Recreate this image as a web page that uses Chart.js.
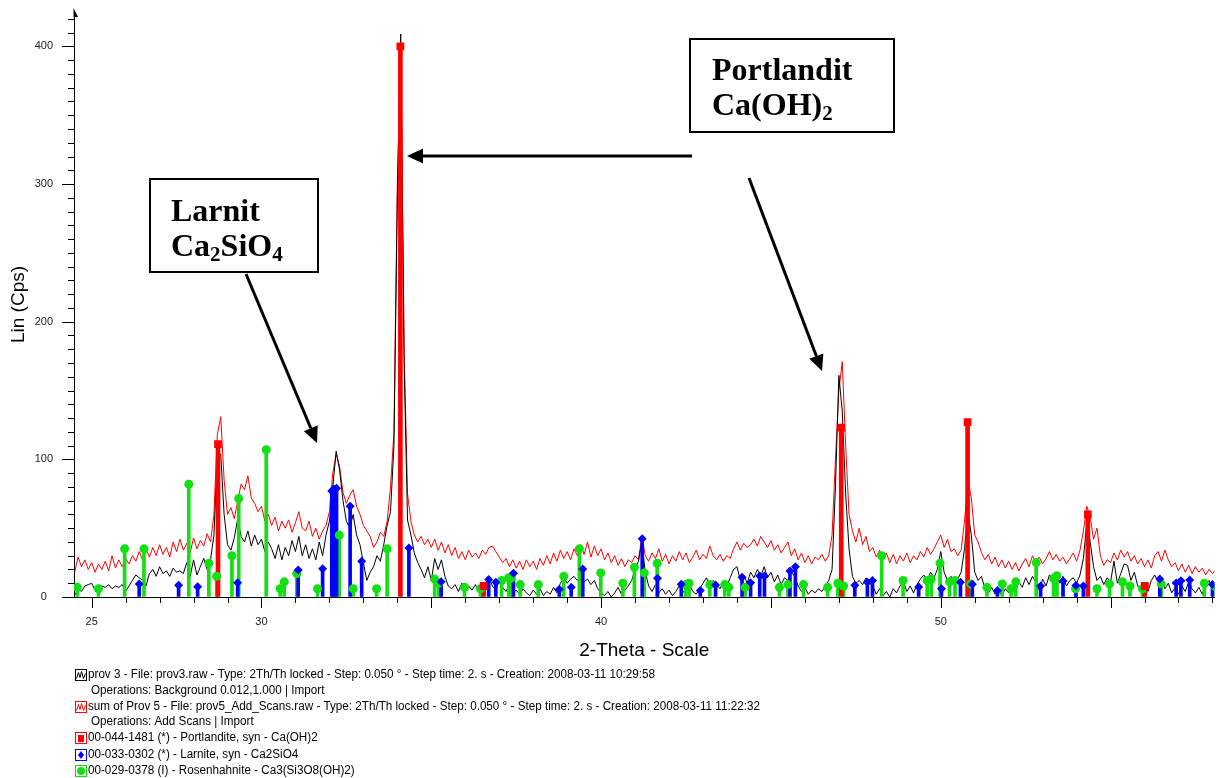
<!DOCTYPE html>
<html>
<head>
<meta charset="utf-8">
<script src="https://cdn.jsdelivr.net/npm/chart.js@4.4.1/dist/chart.umd.min.js"></script>
<style>
  html, body { margin: 0; padding: 0; background: #fff; }
  #wrap { width: 1220px; height: 778px; }
</style>
</head>
<body>
<div id="wrap"><canvas id="xrd" width="1220" height="778"></canvas></div>
<script>
// scans: 2-theta from START in steps of STEP (deg)
const START = 24.5, STEP = 0.1;

// prov 3 (black)
const prov3 = [
  1, 6, 4, 8, 9,
  10, 5, 3, 8, 7, 9, 6, 8, 7, 9,
  4, 8, 12, 16, 14, 12, 8, 17, 20, 15,
  22, 17, 19, 15, 21, 18, 19, 17, 25, 15,
  27, 16, 22, 28, 20, 27, 45, 100, 104, 60,
  38, 34, 43, 57, 44, 40, 48, 37, 45, 38,
  42, 33, 40, 35, 28, 38, 27, 36, 30, 41,
  33, 44, 30, 38, 28, 35, 27, 40, 30, 45,
  55, 80, 106, 92, 70, 55, 50, 60, 45, 38,
  25, 12, 18, 22, 30, 26, 38, 52, 62, 110,
  290, 409, 170, 56, 45, 32, 25, 20, 14, 22,
  12, 28, 20, 27, 15, 8, 6, 9, 4, 10,
  4, 8, 5, 9, 3, 6, 10, 14, 8, 5,
  12, 7, 4, 9, 3, 5, 2, 6, 3, 1,
  5, 2, 6, 1, 4, 2, 7, 3, 10, 14,
  10, 13, 15, 12, 16, 11, 13, 9, 12, 6,
  3, 1, 4, 0, 3, 7, 2, 5, 8, 12,
  20, 26, 40, 18, 8, 4, 9, 3, 6, 2,
  5, 1, 4, 8, 3, 6, 9, 4, 2, 6,
  10, 14, 8, 12, 9, 6, 11, 8, 14, 20,
  22, 12, 16, 10, 18, 14, 20, 15, 22, 14,
  18, 11, 16, 9, 14, 12, 18, 15, 8, 4,
  7, 2, 5, 3, 6, 4, 8, 12, 20, 80,
  161, 135, 75, 35, 15, 10, 12, 9, 14, 10,
  8, 2, 6, 1, 4, 0, 6, 3, 8, 11,
  4, 8, 3, 9, 13, 16, 12, 18, 14, 20,
  33, 18, 12, 15, 9, 13, 18, 35, 62, 45,
  18, 12, 15, 6, 3, 7, 2, 5, 1, 6,
  3, 8, 4, 11, 7, 14, 9, 15, 11, 5,
  13, 8, 16, 12, 18, 10, 15, 8, 12, 14,
  10, 16, 28, 54, 40, 22, 12, 15, 9, 14,
  11, 26, 10, 17, 24, 23, 12, 18, 8, 5,
  9, 4, 12, 16, 11, 14, 6, 10, 3, 7,
  2, 8, 4, 11, 6, 3, 7, 2, 9, 12,
  6, 10
];

// sum of Prov 5 (red)
const prov5 = [
  18, 29, 22, 27, 20,
  25, 18, 24, 20, 26, 19, 30, 21, 27, 22,
  28, 24, 30, 26, 33, 27, 35, 29, 36, 30,
  38, 31, 36, 29, 40, 33, 42, 34, 39, 32,
  43, 35, 41, 37, 46, 40, 60, 118, 131, 85,
  60, 65, 57, 70, 82, 78, 88, 72, 68, 62,
  66, 55, 60, 52, 58, 48, 55, 50, 56, 47,
  54, 62, 50, 48, 55, 44, 50, 42, 48, 52,
  62, 90, 104, 95, 76, 68, 74, 78, 66, 60,
  52, 48, 44, 36, 40, 47, 44, 55, 80, 120,
  300, 402, 180, 75, 55, 45, 40, 44, 38, 42,
  36, 42, 34, 40, 32, 38, 30, 36, 28, 33,
  27, 34, 29, 32, 28, 34, 31, 36, 37, 33,
  29, 25, 28, 22, 27, 21, 26, 20, 27, 22,
  26, 20, 28, 23, 30, 24, 32, 26, 34, 28,
  33, 27, 35, 30, 38, 31, 40, 29, 37, 30,
  35, 27, 32, 25, 30, 23, 28, 22, 27, 25,
  30, 27, 44, 30, 26, 32, 28, 35, 26, 31,
  24, 30, 26, 33, 27, 32, 25, 29, 34, 27,
  31, 28, 37, 30, 27, 31, 26, 30, 28, 35,
  40, 34, 39, 36, 38, 42, 37, 44, 40, 36,
  41, 34, 38, 32, 36, 40, 30, 35, 27, 32,
  25, 30, 24, 29, 27, 31, 26, 30, 45, 100,
  150, 171, 110, 60, 48, 40, 50, 38, 44, 33,
  36, 29, 34, 27, 32, 25, 31, 24, 30, 26,
  32, 25, 30, 27, 33, 29, 36, 31, 35, 40,
  45, 36, 42, 33, 35, 30, 34, 55, 85, 72,
  45, 40, 32, 27, 31, 24, 29, 22, 27, 21,
  26, 20, 25, 19, 24, 28, 22, 30, 25, 29,
  24, 28, 33, 27, 31, 26, 29, 24, 28, 32,
  26, 34, 48, 66, 58, 42, 50, 30, 23, 27,
  25, 32, 27, 34, 29, 33, 26, 30, 24, 28,
  22, 27, 21, 30, 33, 26, 34, 27, 22, 25,
  19, 24, 18, 23, 17, 22, 18, 21, 16, 20,
  17, 20
];

// reference patterns (stick positions / heights)
const portlandite2T = [28.72, 34.09, 36.54, 47.07, 50.79, 54.33, 56.01];
const portlanditeI  = [111, 400, 8, 123, 127, 60, 8];

const larnite2T = [26.40, 27.56, 28.12, 29.30, 31.08, 31.80, 32.07, 32.13, 32.21, 32.61, 32.95, 34.34,
  35.29, 36.69, 36.90, 37.42, 38.77, 39.12, 39.46, 41.21, 41.66, 42.36, 42.92, 43.37, 44.15, 44.40,
  44.67, 44.81, 45.56, 45.72, 47.47, 47.84, 47.99, 49.35, 50.02, 50.58, 50.93, 51.67, 52.94, 53.60,
  53.98, 54.20, 56.45, 56.93, 57.07, 57.33, 58.00];
const larniteI = [9.5, 8.5, 7.5, 10.4, 19.6, 20.6, 77, 78.5, 79, 66, 26, 35.6,
  11, 12.8, 10.7, 17.2, 5.6, 7, 20.4, 42.4, 13.6, 9.2, 4.8, 8.7, 14.3, 10.4,
  15.3, 15.3, 18.9, 22, 8.5, 10.7, 11.9, 7.3, 6, 10.7, 9.2, 4.8, 8, 11.6,
  8.3, 8, 13, 10.2, 11.8, 12.4, 9];

const rosen2T = [24.58, 25.20, 25.97, 26.54, 27.86, 28.45, 28.68, 29.13, 29.33, 30.14, 30.55, 30.67,
  31.04, 31.65, 32.29, 32.70, 33.39, 33.70, 35.10, 35.22, 35.98, 36.45, 37.07, 37.28, 37.35, 37.62,
  38.15, 38.90, 39.36, 39.99, 40.64, 40.98, 41.27, 41.65, 42.49, 42.59, 43.20, 43.64, 43.76, 44.24,
  45.25, 45.50, 45.96, 46.67, 46.97, 47.14, 48.26, 48.89, 49.60, 49.72, 49.98, 50.26, 50.42, 50.88,
  51.36, 51.81, 52.07, 52.21, 52.81, 53.32, 53.42, 53.97, 54.60, 54.97, 55.35, 55.57, 55.94, 56.49,
  57.76, 58.08];
const rosenI = [7, 6, 35, 35, 82, 24.5, 15, 30, 71.5, 107, 6, 11,
  17, 6, 45, 6, 6, 35, 13, 10, 7, 6, 12, 14, 13.5, 9,
  9, 15, 35, 17.5, 10, 21.6, 17.5, 24.5, 9, 10, 9, 9, 7, 7,
  7, 9, 9, 7, 10, 8, 30, 12, 12, 13, 24.5, 11, 12, 9.5,
  7, 9.5, 6, 11, 25, 13.5, 15.5, 6, 6, 9.5, 11, 8, 6, 9.5,
  10, 7.5];

const xTickLabels = [25, 30, 40, 50];
const yTickLabels = [0, 100, 200, 300, 400];

const RED = '#ff0000', BLUE = '#0000ff', GREEN = '#12e012';

const scan = ys => ys.map((y, i) => ({ x: +(START + i * STEP).toFixed(2), y: y }));
const sticks = (xs, ys) => xs.map((x, i) => ({ x: x, y: ys[i] }));

const legendRows = [
  { icon: 'line', color: '#000', x: 88, y: 675, text: 'prov 3 - File: prov3.raw - Type: 2Th/Th locked - Step: 0.050 \u00b0 - Step time: 2. s - Creation: 2008-03-11 10:29:58' },
  { icon: null, x: 91, y: 691, text: 'Operations: Background 0.012,1.000 | Import' },
  { icon: 'line', color: RED, x: 88, y: 707, text: 'sum of Prov 5 - File: prov5_Add_Scans.raw - Type: 2Th/Th locked - Step: 0.050 \u00b0 - Step time: 2. s - Creation: 2008-03-11 11:22:32' },
  { icon: null, x: 91, y: 722, text: 'Operations: Add Scans | Import' },
  { icon: 'rect', color: RED, x: 88, y: 738, text: '00-044-1481 (*) - Portlandite, syn - Ca(OH)2' },
  { icon: 'rectRot', color: BLUE, x: 88, y: 755, text: '00-033-0302 (*) - Larnite, syn - Ca2SiO4' },
  { icon: 'circle', color: GREEN, x: 88, y: 771, text: '00-029-0378 (I) - Rosenhahnite - Ca3(Si3O8(OH)2)' }
];

function arrow(ctx, x1, y1, x2, y2) {
  const a = Math.atan2(y2 - y1, x2 - x1), L = 16, W = 7.5;
  const bx = x2 - L * Math.cos(a), by = y2 - L * Math.sin(a);
  ctx.beginPath();
  ctx.moveTo(x1, y1);
  ctx.lineTo(bx, by);
  ctx.lineWidth = 3;
  ctx.stroke();
  ctx.beginPath();
  ctx.moveTo(x2, y2);
  ctx.lineTo(bx + W * Math.sin(a), by - W * Math.cos(a));
  ctx.lineTo(bx - W * Math.sin(a), by + W * Math.cos(a));
  ctx.closePath();
  ctx.fill();
}

function chem(ctx, x, y, parts) {
  // parts: [text, isSubscript]
  let cx = x;
  parts.forEach(([t, sub]) => {
    ctx.font = sub ? 'bold 21px "Liberation Serif", "Times New Roman", serif' : 'bold 32px "Liberation Serif", "Times New Roman", serif';
    ctx.fillText(t, cx, sub ? y + 5 : y);
    cx += ctx.measureText(t).width;
  });
}

const decorations = {
  id: 'decorations',
  afterDraw(chart) {
    const ctx = chart.ctx;
    const xs = chart.scales.x, ys = chart.scales.y;
    const ax = xs.left, ay = ys.bottom;
    ctx.save();
    ctx.strokeStyle = '#000';
    ctx.fillStyle = '#000';
    ctx.lineWidth = 1;

    // axis tick marks
    ctx.beginPath();
    for (let v = 0; v <= 420; v += 10) {
      const py = Math.round(ys.getPixelForValue(v)) + 0.5;
      const len = yTickLabels.includes(v) ? 12 : 6;
      ctx.moveTo(ax, py); ctx.lineTo(ax - len, py);
    }
    for (let v = 25; v <= 58; v++) {
      const px = Math.round(xs.getPixelForValue(v)) + 0.5;
      const len = v % 5 === 0 ? 11 : 6;
      ctx.moveTo(px, ay); ctx.lineTo(px, ay + len);
    }
    ctx.stroke();

    // small arrow tip at top of y axis
    ctx.beginPath();
    ctx.moveTo(ax - 0.5, ys.top - 4);
    ctx.lineTo(ax - 0.5, ys.top + 5);
    ctx.lineTo(ax + 4, ys.top + 5);
    ctx.closePath();
    ctx.fill();

    // annotation boxes
    ctx.lineWidth = 2;
    ctx.strokeRect(150, 179, 168, 93);
    ctx.strokeRect(690, 39, 204, 93);
    ctx.textBaseline = 'alphabetic';
    ctx.textAlign = 'left';
    chem(ctx, 171, 221, [['Larnit', false]]);
    chem(ctx, 171, 256, [['Ca', false], ['2', true], ['SiO', false], ['4', true]]);
    chem(ctx, 712, 80, [['Portlandit', false]]);
    chem(ctx, 712, 115, [['Ca(OH)', false], ['2', true]]);

    arrow(ctx, 246, 274, 317, 443);
    arrow(ctx, 692, 156, 407, 156);
    arrow(ctx, 749, 178, 822, 371);

    // legend
    ctx.font = '12px "Liberation Sans Narrow", "Liberation Sans", Arial, sans-serif';
    ctx.textBaseline = 'middle';
    const sx = 567 / ctx.measureText(legendRows[0].text).width;
    legendRows.forEach(r => {
      if (r.icon) {
        const bx = 75.5, by = r.y - 5.5;
        ctx.lineWidth = 1;
        ctx.strokeStyle = r.color;
        ctx.fillStyle = r.color;
        ctx.strokeRect(bx, by, 11, 11);
        if (r.icon === 'line') {
          ctx.beginPath();
          ctx.moveTo(bx + 1, by + 9);
          ctx.lineTo(bx + 3, by + 3);
          ctx.lineTo(bx + 4.5, by + 8);
          ctx.lineTo(bx + 6, by + 2);
          ctx.lineTo(bx + 8, by + 9);
          ctx.lineTo(bx + 10, by + 4);
          ctx.stroke();
        } else if (r.icon === 'rect') {
          ctx.fillRect(bx + 2.5, by + 2.5, 6, 7);
        } else if (r.icon === 'rectRot') {
          ctx.beginPath();
          ctx.moveTo(bx + 5.5, by + 1.5);
          ctx.lineTo(bx + 8.5, by + 5.5);
          ctx.lineTo(bx + 5.5, by + 9.5);
          ctx.lineTo(bx + 2.5, by + 5.5);
          ctx.closePath();
          ctx.fill();
        } else {
          ctx.beginPath();
          ctx.arc(bx + 5.5, by + 5.5, 4, 0, Math.PI * 2);
          ctx.fill();
        }
      }
      ctx.fillStyle = '#000';
      ctx.save();
      ctx.translate(r.x, r.y);
      ctx.scale(sx, 1);
      ctx.fillText(r.text, 0, 0);
      ctx.restore();
    });
    ctx.restore();
  }
};

Chart.defaults.font.family = '"Liberation Sans", Arial, sans-serif';

new Chart(document.getElementById('xrd'), {
  type: 'scatter',
  data: {
    datasets: [
      { type: 'scatter', data: sticks(portlandite2T, portlanditeI), pointStyle: 'rect', pointRadius: 5.5, backgroundColor: RED, borderColor: RED, borderWidth: 0, order: 0 },
      { type: 'scatter', data: sticks(larnite2T, larniteI), pointStyle: 'rectRot', pointRadius: 4.5, backgroundColor: BLUE, borderColor: BLUE, borderWidth: 0, order: 0 },
      { type: 'scatter', data: sticks(rosen2T, rosenI), pointStyle: 'circle', pointRadius: 4.5, backgroundColor: GREEN, borderColor: GREEN, borderWidth: 0, order: 0 },
      { type: 'bar', data: sticks(portlandite2T, portlanditeI), backgroundColor: RED, barThickness: 4, grouped: false, order: 1 },
      { type: 'bar', data: sticks(larnite2T, larniteI), backgroundColor: BLUE, barThickness: 3, grouped: false, order: 1 },
      { type: 'bar', data: sticks(rosen2T, rosenI), backgroundColor: GREEN, barThickness: 3, grouped: false, order: 1 },
      { type: 'line', label: 'prov 3', data: scan(prov3), borderColor: '#000', borderWidth: 1, pointRadius: 0, tension: 0, order: 2 },
      { type: 'line', label: 'sum of Prov 5', data: scan(prov5), borderColor: RED, borderWidth: 1, pointRadius: 0, tension: 0, order: 3 }
    ]
  },
  options: {
    responsive: false,
    devicePixelRatio: 1,
    animation: false,
    events: [],
    layout: { padding: { top: 12, right: 2, left: 0, bottom: 116 } },
    plugins: { legend: { display: false }, tooltip: { enabled: false } },
    scales: {
      x: {
        type: 'linear',
        min: 24.48,
        max: 58.06,
        offset: false,
        afterFit: s => { s.height = 65; s.paddingLeft = 0; s.paddingRight = 0; },
        border: { display: true, color: '#000', width: 1 },
        grid: { display: true, drawOnChartArea: false, drawTicks: false, color: 'rgba(0,0,0,0)' },
        ticks: {
          stepSize: 1,
          includeBounds: false,
          autoSkip: false,
          maxRotation: 0,
          padding: 18,
          color: '#222',
          font: { size: 11 },
          callback: v => xTickLabels.includes(Math.round(v)) && Math.abs(v - Math.round(v)) < 1e-6 ? String(Math.round(v)) : ''
        },
        title: { display: true, text: '2-Theta - Scale', color: '#000', font: { size: 19 }, padding: 0 }
      },
      y: {
        min: 0,
        max: 425,
        afterFit: s => { s.width = 74; s.paddingTop = 0; s.paddingBottom = 0; },
        border: { display: true, color: '#000', width: 1 },
        grid: { display: true, drawOnChartArea: false, drawTicks: false, color: 'rgba(0,0,0,0)' },
        ticks: {
          stepSize: 10,
          includeBounds: false,
          autoSkip: false,
          padding: 21,
          crossAlign: 'center',
          color: '#222',
          font: { size: 11 },
          callback: v => yTickLabels.includes(v) ? String(v) : ''
        },
        title: { display: true, text: 'Lin (Cps)', color: '#000', font: { size: 19 }, padding: { top: 7, bottom: 0 } }
      }
    }
  },
  plugins: [decorations]
});
</script>
</body>
</html>
